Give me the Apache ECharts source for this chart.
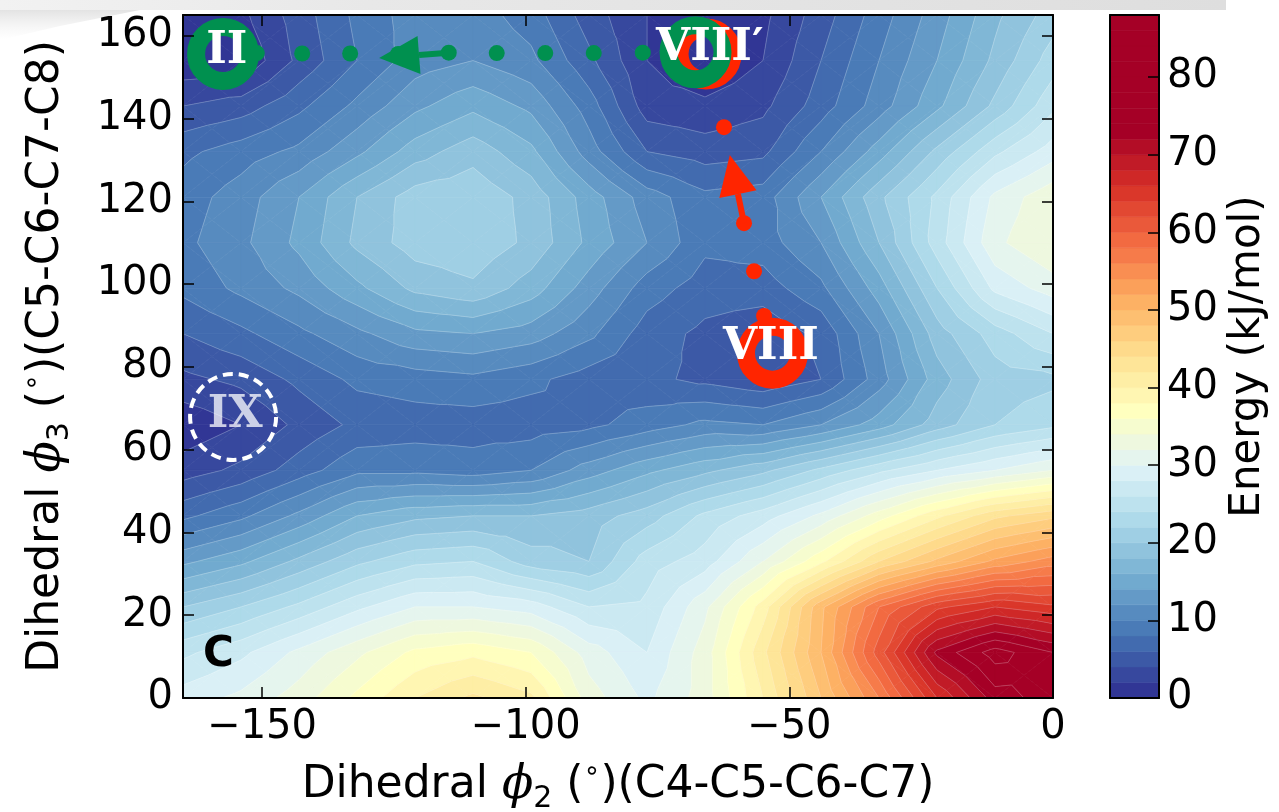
<!DOCTYPE html>
<html>
<head>
<meta charset="utf-8">
<title>Energy surface</title>
<script src="https://cdn.jsdelivr.net/npm/echarts@6/dist/echarts.min.js"></script>
<style>
html,body{margin:0;padding:0;background:#fff;}
#chart{width:1279px;height:812px;}
</style>
</head>
<body>
<div id="chart"></div>
<script>
// Dihedral grid (degrees)
const phi2Values = [-165,-154,-143,-132,-121,-110,-99,-88,-77,-66,-55,-44,-33,-22,-11,0];
const phi3Values = [165,154,143,132,121,110,99,88,77,66,55,44,33,22,11,0];

// Relative energy (kJ/mol): one row per phi3 value (top to bottom), one column per phi2 value
const energyRows = [
  [1, 1.5, 5, 8.5, 11, 11, 9, 5, 2, 0.5, 1.5, 5, 9, 13, 17.5, 21],
  [0.5, 0.2, 4.5, 8, 11, 12, 10.5, 6.5, 2, 0, 2, 6, 10, 14, 18.5, 23],
  [4, 5, 7.5, 10.5, 13.5, 15.5, 13.5, 9, 3, 2.5, 3.5, 7, 11, 15.5, 20.5, 25.5],
  [7.5, 9, 10.5, 13.5, 17, 19.2, 16.5, 11, 6, 5, 5.5, 10, 15, 20.5, 25.5, 29],
  [9, 11, 14, 18, 21, 21.5, 19.3, 15, 11, 8.5, 9, 14, 19.5, 24.5, 30.5, 33.5],
  [9.5, 11.5, 14.5, 18.5, 21, 21.5, 19.5, 15.5, 12, 8.5, 9, 12, 18, 25, 31.5, 34],
  [8.5, 10.5, 12.5, 15.5, 18.5, 19.6, 17, 13, 9, 7, 7, 9.5, 15, 22, 28.5, 31],
  [6, 7.5, 9.5, 11.5, 13.5, 14, 13, 10.5, 7, 5.5, 4.5, 6.5, 12, 19, 23, 26],
  [3.5, 4.5, 6.5, 8.5, 9, 9.5, 8.5, 7, 6.5, 5.5, 4.5, 6, 11, 17, 21, 21.5],
  [0.5, 2, 4.5, 6.5, 7, 7, 7, 7.5, 9, 10.5, 10, 12, 15, 19, 22, 23.5],
  [3, 4.5, 7, 9.5, 9.5, 9, 10, 13, 15.5, 17.5, 19.5, 22.5, 25.5, 28, 30, 32],
  [7.5, 9.5, 12.5, 16, 17.5, 18, 18, 19, 21, 24.5, 27, 30.5, 35, 39.5, 43.5, 45.5],
  [13.5, 15.5, 18.5, 21.5, 23.5, 24, 21, 20, 25, 27, 32, 37.5, 44, 48.5, 52.5, 55],
  [20, 22, 24.5, 27.5, 30, 30, 29, 26, 26.5, 31.5, 39, 49.5, 58, 63.5, 66, 64.5],
  [25.5, 27.5, 30.5, 33.5, 36.5, 37.5, 36, 31, 28, 33, 41.5, 50, 61, 72.5, 77, 74],
  [29, 30.5, 33, 36.5, 40, 42.5, 40.5, 33, 29.5, 33, 40, 48, 56, 66, 73, 75]
];

// Filled-contour levels (kJ/mol); bands from 72 up share the darkest colour
const contourLevels = [0,2,4,6,8,10,12,14,16,18,20,22,24,26,28,30,32,34,36,38,40,42,44,46,48,50,52,54,56,58,60,62,64,66,68,70,72,74,76,78,80,82,84,86,88];
const saturatedBand = 36;

// Tick labels
const phi2Ticks = [-150,-100,-50,0];
const phi3Ticks = [0,20,40,60,80,100,120,140,160];
const energyTicks = [0,10,20,30,40,50,60,70,80];

// Transition paths between minima [phi2, phi3]
const greenPath = [[-151.0,155.8],[-142.4,155.7],[-133.3,155.7],[-124.2,155.6],[-114.6,155.9],[-105.5,155.8],[-96.3,155.8],[-87.1,155.8],[-77.8,155.9]];
const redPath = [[-62.4,137.9],[-58.6,114.7],[-56.7,103.1],[-54.8,92.3]];
const greenArrow = [[-114.6,155.9,-127.8,154.6]];
const redArrow = [[-58.6,114.7,-61.3,131.2]];

// Minima markers
const greenMinima = [[-157.4,155.6],[-67.8,156.0]];
const redMinima = [[-65.8,155.6],[-53.2,83.3]];
const dashedMinimum = [[-155.5,67.9]];
const minimumLabels = [
  {name:'II', value:[-156.7,156.2]},
  {name:'VIII\u2032', value:[-65.1,157.0]},
  {name:'VIII', value:[-53.5,84.6]}
];
const faintLabels = [{name:'IX', value:[-155.1,68.2]}];

const GREEN = '#00904f';
const RED = '#ff2500';

// RdYlBu reversed
const ramp = ['#313695','#4575b4','#74add1','#abd9e9','#e0f3f8','#ffffbf','#fee090','#fdae61','#f46d43','#d73027','#a50026'];
const rampRgb = ramp.map(h => [1,3,5].map(i => parseInt(h.substr(i,2),16)));
function cmap(t){
  t = Math.max(0, Math.min(1, t));
  const s = t*10, i = Math.min(9, Math.floor(s)), f = s - i;
  const a = rampRgb[i], b = rampRgb[i+1];
  return 'rgb(' + a.map((v,k) => Math.round(v + (b[k]-v)*f)).join(',') + ')';
}
function bandColour(k){ return cmap(Math.min(k, saturatedBand) / saturatedBand); }

// Sutherland-Hodgman clip of a polygon of [x, y, value] by a linear condition on value
function clipPoly(poly, dist){
  const out = [];
  for (let i = 0; i < poly.length; i++){
    const a = poly[i], b = poly[(i+1) % poly.length];
    const da = dist(a[2]), db = dist(b[2]);
    if (da >= 0) out.push(a);
    if ((da >= 0) !== (db >= 0)){
      const t = da / (da - db);
      out.push([a[0]+(b[0]-a[0])*t, a[1]+(b[1]-a[1])*t, a[2]+(b[2]-a[2])*t]);
    }
  }
  return out;
}

// Each grid cell is split into four triangles around its centre
function cellTriangles(api){
  const c = api.value(2), r = api.value(3);
  const pts = [[c,r],[c+1,r],[c+1,r+1],[c,r+1]].map(([cc,rr]) => {
    const p = api.coord([phi2Values[cc], phi3Values[rr]]);
    return [p[0], p[1], energyRows[rr][cc]];
  });
  const mid = [0,1,2].map(k => (pts[0][k]+pts[1][k]+pts[2][k]+pts[3][k]) / 4);
  return [0,1,2,3].map(e => [pts[e], pts[(e+1)%4], mid]);
}

function renderBands(params, api){
  const children = [];
  cellTriangles(api).forEach(tri => {
    const vs = tri.map(p => p[2]);
    const vmin = Math.min.apply(null, vs), vmax = Math.max.apply(null, vs);
    for (let k = 0; k < contourLevels.length - 1; k++){
      const lo = contourLevels[k], hi = contourLevels[k+1];
      if (vmax < lo || vmin > hi) continue;
      let poly = clipPoly(tri, v => v - lo);
      if (poly.length < 3) continue;
      poly = clipPoly(poly, v => hi - v);
      if (poly.length < 3) continue;
      const col = bandColour(k);
      children.push({type:'polygon', shape:{points: poly.map(p => [p[0], p[1]])},
        style:{fill: col, stroke: col, lineWidth: 0.7}});
    }
  });
  return {type:'group', children};
}

function renderIsolines(params, api){
  const children = [];
  cellTriangles(api).forEach(tri => {
    for (let k = 1; k < contourLevels.length - 1; k++){
      const L = contourLevels[k], pts = [];
      for (let e = 0; e < 3; e++){
        const a = tri[e], b = tri[(e+1)%3];
        const da = a[2] - L, db = b[2] - L;
        if ((da < 0 && db >= 0) || (da >= 0 && db < 0)){
          const t = da / (da - db);
          pts.push([a[0]+(b[0]-a[0])*t, a[1]+(b[1]-a[1])*t]);
        }
      }
      if (pts.length === 2){
        children.push({type:'line', shape:{x1:pts[0][0], y1:pts[0][1], x2:pts[1][0], y2:pts[1][1]},
          style:{stroke:'rgba(255,255,255,0.32)', lineWidth:0.7}});
      }
    }
  });
  return {type:'group', children};
}

function arrowSeries(data, colour){
  return {
    type:'custom', xAxisIndex:0, yAxisIndex:0, z:6, data,
    renderItem(params, api){
      const p0 = api.coord([api.value(0), api.value(1)]);
      const p1 = api.coord([api.value(2), api.value(3)]);
      const dx = p1[0]-p0[0], dy = p1[1]-p0[1], len = Math.hypot(dx, dy);
      const ux = dx/len, uy = dy/len, nx = -uy, ny = ux;
      const headLen = 40, headHalf = 19;
      const bx = p1[0]-ux*headLen, by = p1[1]-uy*headLen;
      return {type:'group', children:[
        {type:'line', shape:{x1:p0[0], y1:p0[1], x2:bx, y2:by}, style:{stroke:colour, lineWidth:6}},
        {type:'polygon', shape:{points:[[p1[0],p1[1]],[bx+nx*headHalf,by+ny*headHalf],[bx-nx*headHalf,by-ny*headHalf]]},
          style:{fill:colour}}
      ]};
    }
  };
}

// Cell index list for the surface
const cells = [];
for (let r = 0; r < phi3Values.length - 1; r++)
  for (let c = 0; c < phi2Values.length - 1; c++)
    cells.push([phi2Values[c], phi3Values[r], c, r]);

const bands = [];
for (let k = 0; k < contourLevels.length - 1; k++) bands.push([0, contourLevels[k], contourLevels[k+1], k]);

const minus = v => String(v).replace('-', '\u2212');
const FONT = 'DejaVu Sans';
const tickFont = 40;
const nameRich = {
  t:{fontFamily:FONT, fontSize:44, lineHeight:56, color:'#000'},
  m:{fontFamily:'DejaVu Serif', fontStyle:'italic', fontSize:46, lineHeight:56, color:'#000'},
  s:{fontFamily:FONT, fontSize:30, lineHeight:30, verticalAlign:'bottom', color:'#000'},
  u:{fontFamily:FONT, fontSize:27, lineHeight:27, verticalAlign:'top', color:'#000'}
};
const frameLine = {show:true, onZero:false, lineStyle:{color:'#000', width:2}};
const innerTick = vals => ({show:true, inside:true, length:11, customValues:vals, lineStyle:{color:'#000', width:1.5}});

const option = {
  animation:false,
  backgroundColor:'#fff',
  grid:[
    {left:183, top:15, width:870, height:683, outerBoundsMode:'none', containLabel:false},
    {left:1110, top:15, width:49, height:683, outerBoundsMode:'none', containLabel:false}
  ],
  xAxis:[
    {gridIndex:0, type:'value', position:'bottom', min:-165, max:0, z:10,
     axisLine:frameLine, axisTick:innerTick(phi2Ticks), splitLine:{show:false},
     axisLabel:{customValues:phi2Ticks, formatter:minus, fontFamily:FONT, fontSize:tickFont, color:'#000', margin:10},
     name:'{t|Dihedral }{m|\u03d5}{s|2}{t| (}{u|\u2218}{t|)(C4-C5-C6-C7)}',
     nameLocation:'middle', nameGap:60, nameTextStyle:{rich:nameRich}},
    {gridIndex:0, type:'value', position:'top', min:-165, max:0, z:10,
     axisLine:frameLine, axisTick:innerTick(phi2Ticks), axisLabel:{show:false}, splitLine:{show:false}},
    {gridIndex:1, type:'value', position:'bottom', min:0, max:1, z:10,
     axisLine:frameLine, axisTick:{show:false}, axisLabel:{show:false}, splitLine:{show:false}},
    {gridIndex:1, type:'value', position:'top', min:0, max:1, z:10,
     axisLine:frameLine, axisTick:{show:false}, axisLabel:{show:false}, splitLine:{show:false}}
  ],
  yAxis:[
    {gridIndex:0, type:'value', position:'left', min:0, max:165, z:10,
     axisLine:frameLine, axisTick:innerTick(phi3Ticks), splitLine:{show:false},
     axisLabel:{customValues:phi3Ticks, fontFamily:FONT, fontSize:tickFont, color:'#000', margin:10},
     name:'{t|Dihedral }{m|\u03d5}{s|3}{t| (}{u|\u2218}{t|)(C5-C6-C7-C8)}',
     nameLocation:'middle', nameRotate:90, nameGap:108, nameTextStyle:{rich:nameRich}},
    {gridIndex:0, type:'value', position:'right', min:0, max:165, z:10,
     axisLine:frameLine, axisTick:innerTick(phi3Ticks), axisLabel:{show:false}, splitLine:{show:false}},
    {gridIndex:1, type:'value', position:'left', min:0, max:88, z:10,
     axisLine:frameLine, axisTick:{show:false}, axisLabel:{show:false}, splitLine:{show:false}},
    {gridIndex:1, type:'value', position:'right', min:0, max:88, z:10,
     axisLine:frameLine, axisTick:innerTick(energyTicks), splitLine:{show:false},
     axisLabel:{customValues:energyTicks, fontFamily:FONT, fontSize:tickFont, color:'#000', margin:8},
     name:'Energy (kJ/mol)', nameLocation:'middle', nameRotate:90, nameGap:68,
     nameTextStyle:{fontFamily:FONT, fontSize:42, color:'#000'}}
  ],
  series:[
    {type:'custom', name:'energy', xAxisIndex:0, yAxisIndex:0, clip:true, z:1, data:cells, renderItem:renderBands},
    {type:'custom', name:'isolines', xAxisIndex:0, yAxisIndex:0, clip:true, z:2, data:cells, renderItem:renderIsolines},
    {type:'custom', name:'colourbar', xAxisIndex:2, yAxisIndex:2, z:1, data:bands,
     renderItem(params, api){
       const p0 = api.coord([0, api.value(1)]), p1 = api.coord([1, api.value(2)]);
       const col = bandColour(api.value(3));
       return {type:'rect', shape:{x:p0[0], y:p1[1], width:p1[0]-p0[0], height:p0[1]-p1[1]},
         style:{fill:col, stroke:col, lineWidth:0.6}};
     }},
    {type:'scatter', name:'red minima', xAxisIndex:0, yAxisIndex:0, z:3, data:redMinima, symbolSize:53,
     itemStyle:{color:'rgba(0,0,0,0)', borderColor:RED, borderWidth:18, opacity:1}},
    {type:'scatter', name:'green minima', xAxisIndex:0, yAxisIndex:0, z:4, data:greenMinima, symbolSize:54,
     itemStyle:{color:'rgba(0,0,0,0)', borderColor:GREEN, borderWidth:18, opacity:1}},
    {type:'scatter', name:'IX', xAxisIndex:0, yAxisIndex:0, z:4, data:dashedMinimum, symbolSize:86,
     itemStyle:{color:'rgba(0,0,0,0)', borderColor:'#fff', borderWidth:4, borderType:[10,6], opacity:1}},
    {type:'scatter', name:'green path', xAxisIndex:0, yAxisIndex:0, z:5, data:greenPath, symbolSize:16,
     itemStyle:{color:GREEN, opacity:1}},
    {type:'scatter', name:'red path', xAxisIndex:0, yAxisIndex:0, z:5, data:redPath, symbolSize:16,
     itemStyle:{color:RED, opacity:1}},
    arrowSeries(greenArrow, GREEN),
    arrowSeries(redArrow, RED),
    {type:'scatter', name:'labels', xAxisIndex:0, yAxisIndex:0, z:8, data:minimumLabels, symbolSize:1,
     itemStyle:{color:'rgba(0,0,0,0)', opacity:1},
     label:{show:true, position:'inside', formatter:'{b}', color:'#ffffff', opacity:1, fontFamily:'DejaVu Serif',
            fontWeight:'bold', fontSize:44}},
    {type:'scatter', name:'faint labels', xAxisIndex:0, yAxisIndex:0, z:8, data:faintLabels, symbolSize:1,
     itemStyle:{color:'rgba(0,0,0,0)', opacity:1},
     label:{show:true, position:'inside', formatter:'{b}', color:'rgba(255,255,255,0.75)', opacity:1, fontFamily:'DejaVu Serif',
            fontWeight:'bold', fontSize:44}}
  ],
  graphic:[
    // light grey band along the top edge of the page
    {type:'rect', left:0, top:0, z:-1, silent:true, shape:{width:1226, height:10},
     style:{fill:new echarts.graphic.LinearGradient(0,0,1,0,[
       {offset:0, color:'#f2f2f2'},{offset:0.3, color:'#e8e8e8'},{offset:1, color:'#dedede'}])}},
    // soft grey shading in the top-left corner
    {type:'polygon', z:-1, silent:true, shape:{points:[[0,10],[140,10],[60,26],[0,40]]},
     style:{fill:new echarts.graphic.LinearGradient(0,0,0,1,[
       {offset:0, color:'rgba(215,215,215,0.7)'},{offset:1, color:'rgba(235,235,235,0)'}])}},
    {type:'text', left:203, top:634, z:20, silent:true,
     style:{text:'C', fontFamily:FONT, fontWeight:'bold', fontSize:42, fill:'#000'}}
  ]
};

const chart = echarts.init(document.getElementById('chart'));
chart.setOption(option);
</script>
</body>
</html>
